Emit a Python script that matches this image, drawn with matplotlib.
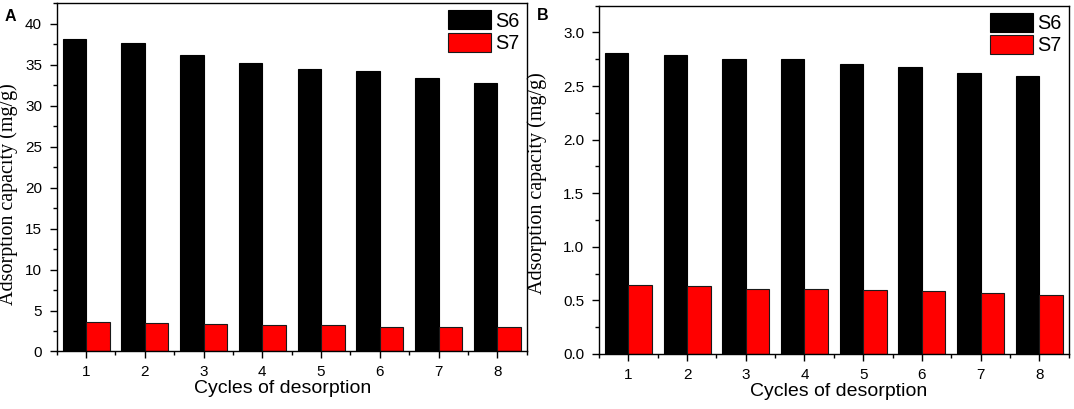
import numpy as np
import matplotlib
matplotlib.use('Agg')
import matplotlib.pyplot as plt
from matplotlib.ticker import MultipleLocator

# data
cycles = [1, 2, 3, 4, 5, 6, 7, 8]
a_s6 = [38.15, 37.6, 36.2, 35.2, 34.5, 34.2, 33.4, 32.8]
a_s7 = [3.6, 3.5, 3.4, 3.25, 3.2, 3.05, 3.0, 2.95]
b_s6 = [2.81, 2.79, 2.75, 2.75, 2.71, 2.68, 2.62, 2.59]
b_s7 = [0.64, 0.63, 0.61, 0.61, 0.595, 0.585, 0.57, 0.555]

sans = ['Liberation Sans', 'DejaVu Sans']
serif = ['Liberation Serif', 'DejaVu Serif']
plt.rcParams['font.family'] = sans

fig = plt.figure(figsize=(10.74, 4.09), dpi=100)
ax_a = fig.add_axes([0.0528, 0.1406, 0.4376, 0.8513])
ax_b = fig.add_axes([0.5577, 0.1345, 0.4373, 0.8516])


def draw_panel(ax, s6, s7, ymax, major, minor, fmt, xlab_x, ylab_xy):
    x = np.array(cycles)
    w = 0.4
    ax.bar(x - w / 2, s6, w, color='black', edgecolor='black', linewidth=0.8, label='S6')
    ax.bar(x + w / 2, s7, w, color='#ff0000', edgecolor='#1a1a1a', linewidth=0.8, label='S7')
    ax.set_xlim(0.5, 8.5)
    ax.set_ylim(0, ymax)
    ax.set_xticks(cycles)
    ax.xaxis.set_minor_locator(MultipleLocator(0.5))
    ax.yaxis.set_major_locator(MultipleLocator(major))
    ax.yaxis.set_minor_locator(MultipleLocator(minor))
    ax.yaxis.set_major_formatter(fmt)
    ax.tick_params(which='major', direction='out', length=5, width=1.0, labelsize=11)
    ax.tick_params(axis='y', which='major', pad=5.5)
    ax.tick_params(axis='x', which='major', pad=5)
    ax.tick_params(which='minor', direction='out', length=3, width=1.0)
    for sp in ax.spines.values():
        sp.set_linewidth(1.0)
    ax.set_xlabel('Cycles of desorption', fontsize=14)
    ax.xaxis.set_label_coords(xlab_x, -0.082)
    ax.set_ylabel('Adsorption capacity (mg/g)', fontsize=14.5, family=serif)
    ax.yaxis.set_label_coords(*ylab_xy)
    ax.legend(loc='upper right', frameon=False, fontsize=14.3,
              handlelength=2.2, handleheight=1.1, handletextpad=0.2,
              labelspacing=0.1, borderaxespad=0.15, borderpad=0.2)


draw_panel(ax_a, a_s6, a_s7, 42.5, 5, 2.5, '{x:.0f}', 0.48, (-0.083, 0.452))
draw_panel(ax_b, b_s6, b_s7, 3.25, 0.5, 0.25, '{x:.1f}', 0.51, (-0.111, 0.49))

fig.text(0.004, 0.977, 'A', fontsize=11.5, fontweight='bold', va='top', ha='left')
fig.text(0.4995, 0.98, 'B', fontsize=11.5, fontweight='bold', va='top', ha='left')

fig.savefig('out.png', dpi=100)
